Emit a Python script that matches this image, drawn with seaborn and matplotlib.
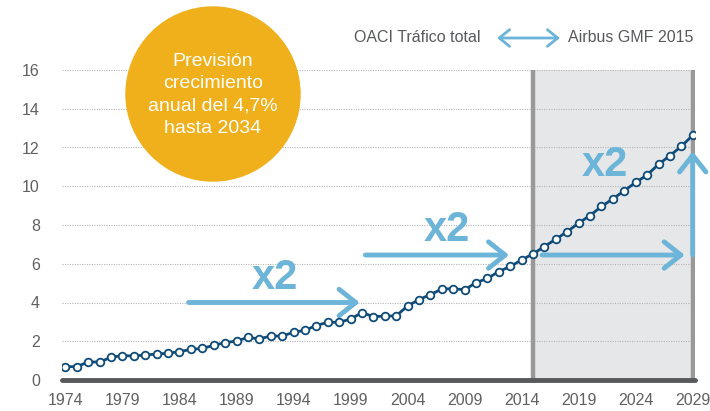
import matplotlib
matplotlib.use("Agg")
import matplotlib.pyplot as plt
import pandas as pd
import seaborn as sns
from matplotlib.patches import Ellipse, FancyArrowPatch

years = list(range(1974, 2030))
traffic = [0.69, 0.69, 0.93, 0.93, 1.17, 1.26, 1.24, 1.29, 1.34, 1.38,
           1.46, 1.58, 1.63, 1.79, 1.93, 2.01, 2.20, 2.12, 2.27, 2.27,
           2.46, 2.57, 2.81, 2.98, 2.98, 3.14, 3.48, 3.27, 3.30, 3.31,
           3.82, 4.15, 4.41, 4.69, 4.72, 4.65, 5.03, 5.24, 5.60, 5.86,
           6.20, 6.51, 6.89, 7.27, 7.66, 8.10, 8.49, 8.96, 9.35, 9.77,
           10.20, 10.58, 11.13, 11.58, 12.06, 12.63]
xtick_years = list(range(1974, 2030, 5))
ytick_vals = list(range(0, 17, 2))
forecast_start, forecast_end = 2015, 2029

# doubling arrows: (x_start, x_end, y) and label positions
arrow_h = [(1984.8, 1999.8, 4.0), (2000.3, 2012.9, 6.45), (2015.8, 2028.3, 6.45)]
arrow_v = (2029.0, 6.45, 11.8)
x2_labels = [(1992.4, 5.25), (2007.4, 7.75), (2021.3, 11.1)]

navy = "#0f4b78"
light_blue = "#6cb4d8"
grey_txt = "#606060"

df = pd.DataFrame({"year": years, "traffic": traffic})

sns.set_style("white")
plt.rcParams["font.family"] = ["Liberation Sans", "DejaVu Sans"]

fig = plt.figure(figsize=(7.10, 4.11), dpi=100)
ax = fig.add_axes([62 / 710, 31 / 411, 633 / 710, 310 / 411])

ax.axvspan(forecast_start, forecast_end, ymin=0, ymax=1, color="#e6e7e9", zorder=0)
for y in ytick_vals[1:]:
    ax.axhline(y, color="#b5b5b5", lw=0.8, ls=(0, (1, 1.2)), zorder=1)
for xv in (forecast_start, forecast_end):
    ax.axvline(xv, color="#999999", lw=3.2, zorder=2)

sns.lineplot(data=df, x="year", y="traffic", ax=ax, color=navy, lw=2,
             marker="o", markersize=5.5, markerfacecolor="white",
             markeredgecolor=navy, markeredgewidth=1.3, zorder=5)

ax.axhline(0, color="#58595b", lw=3.5, zorder=3, clip_on=False)

arrow_style = "->,head_length=1.2,head_width=0.95"
for x0, x1, y in arrow_h:
    ax.annotate("", xy=(x1, y), xytext=(x0, y),
                arrowprops=dict(arrowstyle=arrow_style, lw=3.5, color=light_blue,
                                shrinkA=0, shrinkB=0), zorder=4)
ax.annotate("", xy=(arrow_v[0], arrow_v[2]), xytext=(arrow_v[0], arrow_v[1]),
            arrowprops=dict(arrowstyle=arrow_style, lw=3.5, color=light_blue,
                            shrinkA=0, shrinkB=0), zorder=4, annotation_clip=False)
for xl, yl in x2_labels:
    ax.text(xl, yl, "x2", color=light_blue, fontsize=30, fontweight="bold",
            ha="center", va="center", zorder=4)

ax.set_xlim(1973.7, 2029.2)
ax.set_ylim(0, 16)
ax.set_xticks(xtick_years)
ax.set_yticks(ytick_vals)
ax.tick_params(axis="both", length=0, labelsize=11.5, labelcolor=grey_txt)
ax.tick_params(axis="y", pad=16)
ax.tick_params(axis="x", pad=9)
ax.set_xlabel("")
ax.set_ylabel("")
sns.despine(ax=ax, left=True, bottom=True)

# forecast bubble
fig.add_artist(Ellipse((213 / 710, 1 - 94 / 411), 174 / 710, 174 / 411,
                       transform=fig.transFigure, color="#efb01b", zorder=10))
fig.text(213 / 710, 1 - 95 / 411, "Previsión\ncrecimiento\nanual del 4,7%\nhasta 2034",
         ha="center", va="center", color="white", fontsize=14,
         linespacing=1.42, zorder=11)

# legend
fig.text(480 / 710, 1 - 38 / 411, "OACI Tráfico total", ha="right", va="center",
         color="#58595b", fontsize=11.5)
fig.text(568 / 710, 1 - 38 / 411, "Airbus GMF 2015", ha="left", va="center",
         color="#58595b", fontsize=11.5)
fig.add_artist(FancyArrowPatch(
    (497 / 710, 1 - 38 / 411), (560 / 710, 1 - 38 / 411),
    transform=fig.transFigure, arrowstyle="<->,head_length=5,head_width=4",
    color=light_blue, lw=2, shrinkA=0, shrinkB=0, mutation_scale=1.5))

fig.savefig("out.png", dpi=100)
